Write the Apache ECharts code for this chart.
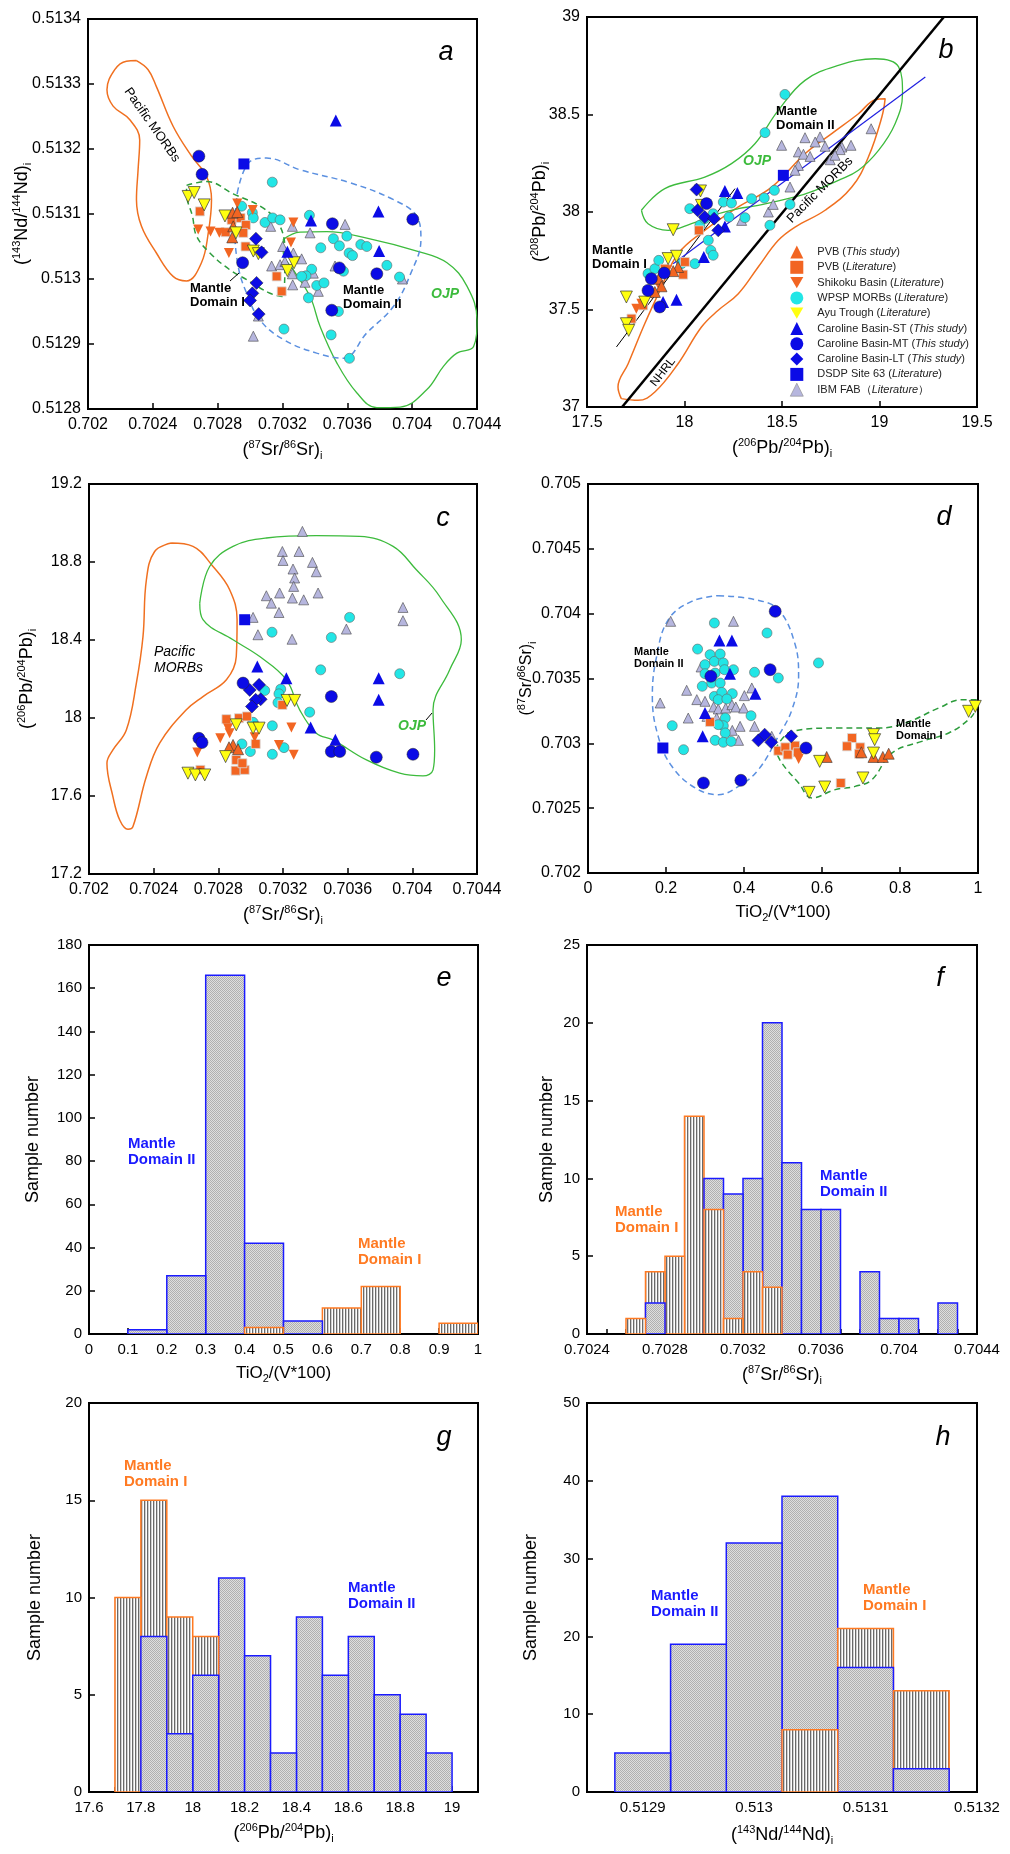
<!DOCTYPE html>
<html><head><meta charset="utf-8">
<script src="https://cdn.jsdelivr.net/npm/echarts/dist/echarts.min.js"></script>
<style>html,body{margin:0;padding:0;background:#fff}#c{width:1010px;height:1854px}</style>
</head><body><div id="c"></div>
<script>
// ---------------- DATA ----------------
// Panel a: (87Sr/86Sr)i vs (143Nd/144Nd)i
const a_pvbT = [[0.702892,0.513102],[0.702921,0.513103],[0.702896,0.513081],[0.70289,0.513064]];
const a_pvbL = [[0.70269,0.513104],[0.702886,0.513091],[0.702941,0.513094],[0.702974,0.513083],[0.702849,0.513072],[0.702958,0.513071],[0.702972,0.51305],[0.703164,0.513004],[0.703195,0.512981]];
const a_shik = [[0.70268,0.513076],[0.702756,0.513073],[0.70281,0.513071],[0.702869,0.51304],[0.702921,0.513116],[0.703267,0.513087],[0.703252,0.513056],[0.703016,0.513106]];
const a_wpsp = [[0.703137,0.513149],[0.702948,0.513112],[0.703014,0.513102],[0.70302,0.513094],[0.703092,0.513087],[0.703139,0.513094],[0.703185,0.513091],[0.703366,0.513098],[0.703514,0.513062],[0.703551,0.513051],[0.703597,0.513066],[0.703436,0.513048],[0.703611,0.51304],[0.703632,0.513036],[0.703683,0.513053],[0.70372,0.51305],[0.703844,0.513021],[0.703922,0.513003],[0.703576,0.513012],[0.70338,0.513015],[0.703345,0.513005],[0.703411,0.51299],[0.703456,0.512994],[0.70336,0.512971],[0.703209,0.512923],[0.7035,0.512914],[0.703545,0.51295],[0.703613,0.512878],[0.703318,0.513004]];
const a_ayu = [[0.702618,0.513127],[0.702655,0.513133],[0.702717,0.513114],[0.702845,0.513097],[0.702913,0.513071],[0.70302,0.513043],[0.703051,0.513039],[0.70323,0.513013],[0.703271,0.513025]];
const a_cbST = [[0.703529,0.513244],[0.703376,0.51309],[0.703792,0.513104],[0.703796,0.513043],[0.70323,0.513042]];
const a_cbMT = [[0.702684,0.513189],[0.702704,0.513161],[0.702954,0.513025],[0.703508,0.513085],[0.703551,0.513017],[0.703504,0.512952],[0.703782,0.513008],[0.704004,0.513092]];
const a_cbLT = [[0.703036,0.513062],[0.703071,0.513041],[0.70304,0.512994],[0.703014,0.512978],[0.703,0.512967],[0.703053,0.512946]];
const a_dsdp = [[0.702962,0.513177]];
const a_ibm = [[0.703127,0.513081],[0.703261,0.513081],[0.70337,0.513071],[0.703586,0.513084],[0.703201,0.51305],[0.703267,0.51304],[0.703318,0.513031],[0.703133,0.51302],[0.703185,0.513022],[0.703215,0.513027],[0.703261,0.513008],[0.703263,0.512991],[0.703339,0.512995],[0.70339,0.513009],[0.703421,0.512981],[0.70302,0.512912],[0.703051,0.512943],[0.703524,0.51302],[0.70394,0.513]];
const a_pacMORB = [[0.702299,0.513336],[0.702371,0.513322],[0.702422,0.513296],[0.702525,0.513235],[0.702639,0.513189],[0.702731,0.513158],[0.702762,0.513122],[0.702742,0.513071],[0.7027,0.513025],[0.702608,0.512997],[0.702525,0.513004],[0.702422,0.51304],[0.70233,0.513081],[0.702299,0.513122],[0.702309,0.513168],[0.702319,0.513214],[0.702258,0.513245],[0.702155,0.513266],[0.702117,0.513291],[0.702165,0.513322],[0.702237,0.513335]];
const a_ojp = [[0.703205,0.513061],[0.703308,0.513072],[0.703473,0.513073],[0.70372,0.513063],[0.704029,0.513043],[0.704215,0.513025],[0.704338,0.512989],[0.7044,0.512937],[0.704379,0.512896],[0.704276,0.512886],[0.704194,0.512866],[0.704091,0.51283],[0.703926,0.512803],[0.703782,0.512802],[0.703658,0.512825],[0.703535,0.512871],[0.703432,0.512927],[0.70337,0.512973],[0.703267,0.513014],[0.703205,0.51304]];
const a_dom1 = [[0.702608,0.513144],[0.702731,0.51315],[0.702896,0.513131],[0.703082,0.513109],[0.703185,0.513081],[0.703215,0.51304],[0.703201,0.512973],[0.703123,0.512978],[0.702979,0.512999],[0.702876,0.513014],[0.702752,0.51304],[0.70267,0.513066],[0.702645,0.513096],[0.702608,0.513132]];
const a_dom2 = [[0.702921,0.513132],[0.702989,0.513178],[0.703102,0.513186],[0.703308,0.513168],[0.703617,0.513148],[0.703885,0.513122],[0.704029,0.513096],[0.704054,0.513061],[0.703992,0.513009],[0.703885,0.512958],[0.70372,0.512917],[0.703576,0.512878],[0.703411,0.512886],[0.703205,0.512907],[0.703061,0.512937],[0.702979,0.512978],[0.702927,0.513019],[0.702906,0.513081]];

// Panel b: (206Pb/204Pb)i vs (208Pb/204Pb)i
const b_pvbT = [[17.868,37.658],[17.882,37.619],[17.848,37.59],[17.967,37.718],[17.942,37.697]];
const b_pvbL = [[17.728,37.453],[17.788,37.521],[17.899,37.709],[18.002,37.744],[17.993,37.679],[18.074,37.906]];
const b_shik = [[17.753,37.504],[17.779,37.53],[17.83,37.581],[17.868,37.624],[17.911,37.701]];
const b_wpsp = [[18.515,38.603],[18.413,38.407],[17.813,37.684],[17.848,37.709],[17.868,37.752],[18.027,38.017],[18.079,37.932],[18.122,37.855],[18.135,37.803],[18.147,37.778],[18.053,37.735],[17.985,37.735],[18.147,37.991],[18.199,38.051],[18.241,38.046],[18.228,37.974],[18.31,37.971],[18.344,38.068],[18.409,38.072],[18.461,38.111],[18.438,37.932],[18.541,38.039],[18.104,37.966]];
const b_ayu = [[17.702,37.564],[17.702,37.427],[17.714,37.393],[17.796,37.538],[17.916,37.761],[17.959,37.773],[18.082,38.108],[18.087,38.034],[17.942,37.909]];
const b_cbST = [[17.89,37.538],[17.959,37.55],[18.099,37.769],[18.207,38.108],[18.271,38.097],[18.207,37.926]];
const b_cbMT = [[17.873,37.513],[17.813,37.598],[17.83,37.658],[17.896,37.687],[18.113,38.043]];
const b_cbLT = [[18.062,38.115],[18.067,38.009],[18.104,37.974],[18.152,37.966],[18.173,37.906]];
const b_dsdp = [[18.507,38.188]];
const b_ibm = [[18.498,38.342],[18.618,38.381],[18.695,38.385],[18.67,38.359],[18.721,38.337],[18.584,38.308],[18.61,38.296],[18.644,38.285],[18.747,38.268],[18.807,38.333],[18.854,38.342],[18.798,38.32],[18.772,38.291],[18.957,38.427],[18.584,38.239],[18.567,38.214],[18.541,38.128],[18.43,38.0],[18.455,38.039],[18.293,37.957]];
const b_pacMORB = [[17.676,37.043],[17.762,37.034],[17.848,37.077],[17.967,37.222],[18.087,37.41],[18.173,37.496],[18.276,37.581],[18.378,37.718],[18.481,37.855],[18.567,37.923],[18.721,38.009],[18.858,38.128],[18.943,38.282],[19.012,38.487],[19.029,38.581],[18.978,38.576],[18.892,38.504],[18.755,38.402],[18.618,38.299],[18.447,38.128],[18.276,38.026],[18.104,37.906],[17.967,37.786],[17.882,37.615],[17.796,37.427],[17.711,37.222],[17.659,37.103]];
const b_ojp = [[17.779,38.009],[17.899,38.12],[18.104,38.179],[18.241,38.248],[18.361,38.35],[18.481,38.521],[18.618,38.675],[18.789,38.752],[18.978,38.786],[19.098,38.744],[19.118,38.607],[19.08,38.453],[18.995,38.316],[18.892,38.214],[18.789,38.162],[18.67,38.111],[18.567,38.077],[18.378,38.034],[18.276,38.017],[18.173,37.991],[18.036,37.94],[17.916,37.906],[17.813,37.94]];
const b_nhrl = [[17.68,37.0],[19.33,39.0]];
const b_trend1 = [[17.651,37.308],[18.259,38.12]];
const b_trend2 = [[17.942,37.735],[19.235,38.692]];

// Panel c: (87Sr/86Sr)i vs (206Pb/204Pb)i
const c_pvbT = [[0.702891,17.862],[0.702866,17.85],[0.702922,17.84]];
const c_pvbL = [[0.70285,17.994],[0.702928,17.999],[0.702977,18.008],[0.703031,17.867],[0.702911,17.785],[0.702907,17.73],[0.702963,17.734],[0.702949,17.768],[0.702689,17.734],[0.703196,18.067]];
const c_shik = [[0.702812,17.896],[0.70287,17.922],[0.70286,17.948],[0.70267,17.823],[0.703025,17.901],[0.703252,17.951],[0.703175,17.862],[0.703266,17.811]];
const c_wpsp = [[0.703132,18.44],[0.703499,18.413],[0.703612,18.516],[0.703433,18.247],[0.703922,18.227],[0.703365,18.03],[0.703087,18.141],[0.703186,18.148],[0.703175,18.124],[0.703169,18.079],[0.703015,17.978],[0.703134,17.96],[0.702946,17.867],[0.702998,17.828],[0.703134,17.814],[0.703206,17.848]];
const c_ayu = [[0.702612,17.717],[0.702658,17.708],[0.702716,17.708],[0.702845,17.802],[0.702911,17.965],[0.703015,17.948],[0.703052,17.948],[0.703225,18.09],[0.703272,18.09]];
const c_cbST = [[0.703041,18.264],[0.703221,18.204],[0.703371,17.951],[0.703524,17.888],[0.703792,18.204],[0.703792,18.093]];
const c_cbMT = [[0.70268,17.896],[0.702699,17.874],[0.702953,18.179],[0.703499,18.11],[0.703499,17.828],[0.703551,17.828],[0.703777,17.799],[0.704004,17.814]];
const c_cbLT = [[0.702994,18.144],[0.703052,18.17],[0.703062,18.096],[0.703031,18.093],[0.703008,18.059]];
const c_dsdp = [[0.702963,18.504]];
const c_ibm = [[0.70332,18.957],[0.703196,18.854],[0.7032,18.808],[0.703299,18.854],[0.703382,18.798],[0.703406,18.75],[0.703262,18.764],[0.703272,18.718],[0.703266,18.675],[0.703179,18.641],[0.703258,18.615],[0.703328,18.606],[0.703417,18.641],[0.703097,18.627],[0.703128,18.589],[0.703175,18.541],[0.703015,18.516],[0.703045,18.427],[0.703256,18.404],[0.703592,18.456],[0.703942,18.567],[0.703942,18.499]];
const c_pacMORB = [[0.702509,18.897],[0.702643,18.88],[0.702767,18.777],[0.70287,18.658],[0.702916,18.504],[0.702911,18.315],[0.70285,18.196],[0.702705,18.11],[0.702602,18.042],[0.702437,17.871],[0.702355,17.7],[0.702272,17.443],[0.702241,17.429],[0.70219,17.477],[0.702148,17.597],[0.702111,17.768],[0.702148,17.836],[0.702231,17.939],[0.702293,18.179],[0.702334,18.418],[0.702355,18.709],[0.702406,18.854]];
const c_ojp = [[0.702685,18.589],[0.702746,18.777],[0.702891,18.88],[0.703097,18.923],[0.703406,18.935],[0.703674,18.931],[0.703881,18.88],[0.704025,18.76],[0.704169,18.623],[0.704303,18.401],[0.704231,18.247],[0.704128,18.042],[0.704138,17.836],[0.704128,17.734],[0.704066,17.703],[0.703922,17.717],[0.703716,17.785],[0.703509,17.888],[0.703406,17.922],[0.703303,18.042],[0.703221,18.196],[0.703056,18.315],[0.702891,18.401],[0.702705,18.504]];

// Panel d: TiO2/(V*100) vs (87Sr/86Sr)i
const d_pvbT = [[0.612,0.702895],[0.701,0.702931],[0.732,0.702895],[0.756,0.702895],[0.771,0.70292]];
const d_pvbL = [[0.313,0.703165],[0.488,0.702943],[0.506,0.702969],[0.512,0.702913],[0.531,0.702982],[0.538,0.702931],[0.677,0.703041],[0.664,0.702977],[0.698,0.702969],[0.695,0.70292],[0.648,0.702694]];
const d_shik = [[0.54,0.702879]];
const d_wpsp = [[0.324,0.703928],[0.281,0.703727],[0.3,0.703607],[0.313,0.703684],[0.324,0.703632],[0.339,0.703689],[0.347,0.70362],[0.3,0.703537],[0.326,0.703542],[0.35,0.703568],[0.373,0.703568],[0.317,0.703465],[0.339,0.703465],[0.293,0.70344],[0.324,0.703362],[0.343,0.703393],[0.37,0.703383],[0.334,0.703337],[0.356,0.703342],[0.352,0.703195],[0.347,0.703136],[0.334,0.703144],[0.352,0.70308],[0.326,0.703023],[0.347,0.703008],[0.367,0.703015],[0.216,0.703136],[0.245,0.702951],[0.418,0.703213],[0.427,0.703548],[0.459,0.703851],[0.488,0.703504],[0.591,0.70362]];
const d_ayu = [[0.567,0.702622],[0.607,0.702663],[0.594,0.702861],[0.705,0.702733],[0.732,0.703067],[0.735,0.703028],[0.732,0.702925],[0.976,0.703247],[0.993,0.703285]];
const d_cbST = [[0.337,0.703794],[0.369,0.703794],[0.364,0.703537],[0.429,0.703383],[0.3,0.703234],[0.294,0.703054]];
const d_cbMT = [[0.48,0.704018],[0.467,0.703568],[0.315,0.703517],[0.559,0.702964],[0.296,0.702694],[0.392,0.702715]];
const d_cbLT = [[0.437,0.703023],[0.453,0.703067],[0.47,0.703008],[0.521,0.703054]];
const d_dsdp = [[0.192,0.702964]];
const d_ibm = [[0.212,0.703941],[0.373,0.703941],[0.29,0.703589],[0.253,0.703409],[0.185,0.703311],[0.279,0.703337],[0.3,0.703324],[0.322,0.70328],[0.334,0.703265],[0.353,0.703272],[0.369,0.703298],[0.379,0.70328],[0.399,0.703272],[0.401,0.703368],[0.42,0.703427],[0.427,0.703131],[0.39,0.703131],[0.37,0.7031],[0.386,0.703023],[0.257,0.703195],[0.305,0.703208],[0.33,0.703195],[0.471,0.703054]];
const d_dom1 = [[0.48,0.702951],[0.523,0.703093],[0.642,0.703118],[0.745,0.703118],[0.814,0.703157],[0.899,0.703272],[0.959,0.703337],[0.997,0.703337],[0.993,0.703254],[0.976,0.703183],[0.925,0.70308],[0.856,0.703015],[0.779,0.702925],[0.728,0.70272],[0.685,0.702668],[0.634,0.702643],[0.574,0.702578],[0.54,0.702694],[0.497,0.702848]];
const d_dom2 = [[0.334,0.704139],[0.429,0.704108],[0.488,0.704031],[0.53,0.703774],[0.54,0.703517],[0.523,0.70326],[0.488,0.703054],[0.437,0.702797],[0.386,0.702668],[0.334,0.702604],[0.275,0.702656],[0.215,0.702823],[0.18,0.703054],[0.165,0.703362],[0.176,0.703671],[0.206,0.703954],[0.266,0.704095]];

// Histograms: [binStart, binEnd, count]
const e_II = [[0.1,0.2,2],[0.2,0.3,27],[0.3,0.4,166],[0.4,0.5,42],[0.5,0.6,6]];
const e_I  = [[0.4,0.5,3],[0.6,0.7,12],[0.7,0.8,22],[0.9,1.0,5]];
const f_II = [[0.7027,0.7028,2],[0.703,0.7031,10],[0.7031,0.7032,9],[0.7032,0.7033,10],[0.7033,0.7034,20],[0.7034,0.7035,11],[0.7035,0.7036,8],[0.7036,0.7037,8],[0.7038,0.7039,4],[0.7039,0.704,1],[0.704,0.7041,1],[0.7042,0.7043,2]];
const f_I  = [[0.7026,0.7027,1],[0.7027,0.7028,4],[0.7028,0.7029,5],[0.7029,0.703,14],[0.703,0.7031,8],[0.7031,0.7032,1],[0.7032,0.7033,4],[0.7033,0.7034,3]];
const g_II = [[17.8,17.9,8],[17.9,18,3],[18,18.1,6],[18.1,18.2,11],[18.2,18.3,7],[18.3,18.4,2],[18.4,18.5,9],[18.5,18.6,6],[18.6,18.7,8],[18.7,18.8,5],[18.8,18.9,4],[18.9,19,2]];
const g_I  = [[17.7,17.8,10],[17.8,17.9,15],[17.9,18,9],[18,18.1,8]];
const h_II = [[0.512875,0.512925,5],[0.512925,0.512975,19],[0.512975,0.513025,32],[0.513025,0.513075,38],[0.513075,0.513125,16],[0.513125,0.513175,3]];
const h_I  = [[0.513025,0.513075,8],[0.513075,0.513125,21],[0.513125,0.513175,13]];

// Legend labels
const NAMES = {pvbT:'PVB (This study)', pvbL:'PVB (Literature)', shik:'Shikoku Basin (Literature)', wpsp:'WPSP MORBs (Literature)', ayu:'Ayu Trough (Literature)', cbST:'Caroline Basin-ST (This study)', cbMT:'Caroline Basin-MT (This study)', cbLT:'Caroline Basin-LT (This study)', dsdp:'DSDP Site 63 (Literature)', ibm:'IBM FAB\uff08Literature\uff09'};
const LEGEND_ORDER = ['pvbT','pvbL','shik','wpsp','ayu','cbST','cbMT','cbLT','dsdp','ibm'];

// ---------------- STYLE ----------------
const F = 'Liberation Sans, Arial, Helvetica, sans-serif';
const ORANGE='#f26522', BLUE='#0b0be6', CYAN='#22e6e6', YELLOW='#ffff10', LAV='#b6b6de', GREEN='#3dbb3d', DGREEN='#2c9c3c', LBLUE='#5b90e0';
const HBLUE='#1a1aff', HORANGE='#ff7a22';
const STYLE = {
  pvbT:{symbol:'triangle',rot:0,size:11,color:ORANGE,border:'#333',bw:0.6},
  pvbL:{symbol:'rect',rot:0,size:9,color:ORANGE,border:'#d8d8d8',bw:0.8},
  shik:{symbol:'triangle',rot:180,size:10,color:ORANGE,border:ORANGE,bw:0},
  wpsp:{symbol:'circle',rot:0,size:10,color:CYAN,border:'#666',bw:0.6},
  ayu:{symbol:'triangle',rot:180,size:12,color:YELLOW,border:'#333',bw:0.7},
  cbST:{symbol:'triangle',rot:0,size:12,color:BLUE,border:BLUE,bw:0},
  cbMT:{symbol:'circle',rot:0,size:12,color:BLUE,border:'#222',bw:0.5},
  cbLT:{symbol:'diamond',rot:0,size:13,color:BLUE,border:'#222',bw:0.5},
  dsdp:{symbol:'rect',rot:0,size:11,color:BLUE,border:BLUE,bw:0},
  ibm:{symbol:'triangle',rot:0,size:10,color:LAV,border:'#444',bw:0.6}
};
const DRAW_ORDER = ['ibm','wpsp','pvbL','shik','pvbT','ayu','dsdp','cbST','cbLT','cbMT'];
const INV_TRI = 'path://M0,0L20,0L10,17.3Z';

const GRIDS = [[88,19,389,390],[587,17,390,390],[89,484,388,390],[588,484,390,389],[89,945,389,389],[587,945,390,389],[89,1403,389,389],[587,1403,390,389]];

const RICH = {
  s:{fontSize:11, lineHeight:12, verticalAlign:'top', fontFamily:F, color:'#000'},
  b:{fontSize:11, lineHeight:12, verticalAlign:'bottom', fontFamily:F, color:'#000'}
};
const fmt = v => String(+v.toFixed(6));

function mkAxis(gi, isY, min, max, interval, name, gap, fs, nfs, extra) {
  const ax = {
    type:'value', gridIndex:gi, min, max, interval,
    name, nameLocation:'middle', nameGap:gap, nameRotate: isY?90:0, nameMoveOverlap:false,
    nameTextStyle:{fontFamily:F, fontSize:nfs, lineHeight:22, color:'#000', rich:RICH},
    axisLine:{show:true, onZero:false, lineStyle:{color:'#000', width:2}},
    axisTick:{show:true, inside:true, length:6, lineStyle:{color:'#000', width:1.5}},
    axisLabel:{fontFamily:F, fontSize:fs, color:'#000', margin:isY?7:8, formatter:fmt, showMinLabel:true, showMaxLabel:true, hideOverlap:false},
    splitLine:{show:false}
  };
  if (extra) {
    if (extra.formatter) ax.axisLabel.formatter = extra.formatter;
    if (extra.minor) ax.minorTick = {show:true, splitNumber:extra.minor, length:5, lineStyle:{color:'#000', width:1.5}};
  }
  return ax;
}

const SR = '({s|87}Sr/{s|86}Sr){b|i}';
const ND = '({s|143}Nd/{s|144}Nd){b|i}';
const PB6 = '({s|206}Pb/{s|204}Pb){b|i}';
const PB8 = '({s|208}Pb/{s|204}Pb){b|i}';
const TI = 'TiO{b|2}/(V*100)';
const SN = 'Sample number';

const xAxes = [
  mkAxis(0,false,0.702,0.7044,0.0004,SR,30,16,18),
  mkAxis(1,false,17.5,19.5,0.5,PB6,30,16,18),
  mkAxis(2,false,0.702,0.7044,0.0004,SR,30,16,18),
  mkAxis(3,false,0,1,0.2,TI,28,16,17),
  mkAxis(4,false,0,1,0.1,TI,28,15,17),
  mkAxis(5,false,0.7024,0.7044,0.0004,SR,30,15,18,{minor:4}),
  mkAxis(6,false,17.6,19.1,0.2,PB6,30,15,18,{minor:2, formatter:v=>Math.abs(v*5-Math.round(v*5))<1e-6?String(+v.toFixed(4)):''}),
  mkAxis(7,false,0.51285,0.5132,0.00005,ND,32,15,18,{formatter:v=>Math.abs(v*1e4-Math.round(v*1e4))<1e-3?String(+v.toFixed(4)):''})
];
const yAxes = [
  mkAxis(0,true,0.5128,0.5134,0.0001,ND,55,16,18),
  mkAxis(1,true,37,39,0.5,PB8,36,16,18),
  mkAxis(2,true,17.2,19.2,0.4,PB6,51,16,18),
  mkAxis(3,true,0.702,0.705,0.0005,SR,50,16,16),
  mkAxis(4,true,0,180,20,SN,45,15,18),
  mkAxis(5,true,0,25,5,SN,29,15,18),
  mkAxis(6,true,0,20,5,SN,43,15,18),
  mkAxis(7,true,0,50,10,SN,45,15,18)
];

// patterns
function pat(w,h,draw){const c=document.createElement('canvas');c.width=w;c.height=h;draw(c.getContext('2d'));return {image:c, repeat:'repeat'};}
const PAT_GRAY = pat(2,2,g=>{g.fillStyle='#dedede';g.fillRect(0,0,2,2);g.fillStyle='#b0b0b0';g.fillRect(0,0,1,1);g.fillRect(1,1,1,1);});
const PAT_STRIPE = pat(3,1,g=>{g.fillStyle='#ffffff';g.fillRect(0,0,3,1);g.fillStyle='#6a6a6a';g.fillRect(0,0,1,1);g.fillStyle='#cfcfcf';g.fillRect(1,0,1,1);});

const series = [];
function poly(gi, pts, color, width, dashed, closed, smooth) {
  series.push({type:'line', xAxisIndex:gi, yAxisIndex:gi, data: closed ? pts.concat([pts[0]]) : pts,
    smooth: smooth, showSymbol:false, symbol:'none', silent:true, clip:true, z:2,
    lineStyle:{color, width, type: dashed ? [6,4] : 'solid'}});
}
function scat(gi, set) {
  DRAW_ORDER.forEach(k => {
    if (!set[k] || !set[k].length) return;
    const s = STYLE[k];
    series.push({type:'scatter', name:NAMES[k], xAxisIndex:gi, yAxisIndex:gi, data:set[k],
      symbol:s.symbol, symbolRotate:s.rot, symbolSize:s.size, z:5,
      itemStyle:{color:s.color, borderColor:s.border, borderWidth:s.bw, opacity:1}});
  });
}
function hist(gi, II, I) {
  const items = II.map(b=>[b[0],b[1],b[2],2]).concat(I.map(b=>[b[0],b[1],b[2],1])).sort((p,q)=>q[2]-p[2]);
  series.push({type:'custom', xAxisIndex:gi, yAxisIndex:gi, data:items, clip:true, z:3, silent:true,
    encode:{x:[0,1], y:2},
    renderItem:(params, api) => {
      const p0 = api.coord([api.value(0), api.value(2)]);
      const p1 = api.coord([api.value(1), 0]);
      const dom = api.value(3);
      return {type:'rect', shape:{x:p0[0], y:p0[1], width:p1[0]-p0[0], height:p1[1]-p0[1]},
        style:{fill: dom===2 ? PAT_GRAY : PAT_STRIPE, stroke: dom===2 ? HBLUE : HORANGE, lineWidth:1.5}};
    }});
}

// panel a
poly(0, a_pacMORB, '#f07020', 1.5, false, true, 0.4);
poly(0, a_ojp, GREEN, 1.3, false, true, 0.4);
poly(0, a_dom1, DGREEN, 1.5, true, true, 0.4);
poly(0, a_dom2, LBLUE, 1.5, true, true, 0.4);
scat(0, {pvbT:a_pvbT,pvbL:a_pvbL,shik:a_shik,wpsp:a_wpsp,ayu:a_ayu,cbST:a_cbST,cbMT:a_cbMT,cbLT:a_cbLT,dsdp:a_dsdp,ibm:a_ibm});
// panel b
poly(1, b_pacMORB, '#f07020', 1.5, false, true, 0.4);
poly(1, b_ojp, GREEN, 1.3, false, true, 0.4);
poly(1, b_nhrl, '#000', 2.5, false, false, false);
poly(1, b_trend1, '#000', 1, false, false, false);
poly(1, b_trend2, '#2020e0', 1.2, false, false, false);
scat(1, {pvbT:b_pvbT,pvbL:b_pvbL,shik:b_shik,wpsp:b_wpsp,ayu:b_ayu,cbST:b_cbST,cbMT:b_cbMT,cbLT:b_cbLT,dsdp:b_dsdp,ibm:b_ibm});
// panel c
poly(2, c_pacMORB, '#f07020', 1.5, false, true, 0.4);
poly(2, c_ojp, GREEN, 1.3, false, true, 0.4);
scat(2, {pvbT:c_pvbT,pvbL:c_pvbL,shik:c_shik,wpsp:c_wpsp,ayu:c_ayu,cbST:c_cbST,cbMT:c_cbMT,cbLT:c_cbLT,dsdp:c_dsdp,ibm:c_ibm});
// panel d
poly(3, d_dom1, DGREEN, 1.5, true, true, 0.4);
poly(3, d_dom2, LBLUE, 1.5, true, true, 0.4);
scat(3, {pvbT:d_pvbT,pvbL:d_pvbL,shik:d_shik,wpsp:d_wpsp,ayu:d_ayu,cbST:d_cbST,cbMT:d_cbMT,cbLT:d_cbLT,dsdp:d_dsdp,ibm:d_ibm});
// histograms
hist(4, e_II, e_I);
hist(5, f_II, f_I);
hist(6, g_II, g_I);
hist(7, h_II, h_I);

// annotations
const G = [];
function txt(left, top, text, fs, opt) {
  opt = opt || {};
  G.push({type:'text', left, top, z:50, silent:true, style:{text, fontFamily:F, fontSize:fs, fontWeight:opt.w||'bold', fontStyle:opt.it?'italic':'normal', fill:opt.c||'#000', lineHeight:opt.lh||Math.round(fs*1.08)}});
}
function rtxt(x, y, deg, text, fs, opt) {
  opt = opt || {};
  G.push({type:'text', x, y, rotation:deg*Math.PI/180, z:50, silent:true, style:{text, fontFamily:F, fontSize:fs, fontWeight:opt.w||'normal', fontStyle:opt.it?'italic':'normal', fill:opt.c||'#000', align:'center', verticalAlign:'middle'}});
}
function ln(x1,y1,x2,y2){G.push({type:'line', z:50, silent:true, shape:{x1,y1,x2,y2}, style:{stroke:'#000', lineWidth:1}});}
// panel letters
[['a',446,52],['b',946,50],['c',443,518],['d',944,517],['e',444,978],['f',940,978],['g',444,1437],['h',943,1437]].forEach(l=>rtxt(l[1],l[2],0,l[0],27,{it:true}));
// a
rtxt(152,125,-55,'Pacific MORBs',13);
txt(190,281,'Mantle\nDomain I',13,{lh:14});
ln(230,281,239,273);
txt(343,283,'Mantle\nDomain II',13,{lh:14});
txt(431,287,'OJP',14,{it:true,c:GREEN});
// b
txt(776,104,'Mantle\nDomain II',13,{lh:14});
txt(592,243,'Mantle\nDomain I',13,{lh:14});
txt(743,154,'OJP',14,{it:true,c:GREEN});
rtxt(820,190,45,'Pacific MORBs',13);
rtxt(663,372,52,'NHRL',12);
// c
txt(154,644,'Pacific\nMORBs',14,{w:'normal',it:true,lh:16});
txt(398,719,'OJP',14,{it:true,c:GREEN});
ln(426,720,432,713);
// d
txt(634,646,'Mantle\nDomain II',11,{lh:12});
txt(896,718,'Mantle\nDomain I',11,{lh:12});
// histograms
txt(128,1136,'Mantle\nDomain II',15,{c:HBLUE,lh:16});
txt(358,1236,'Mantle\nDomain I',15,{c:HORANGE,lh:16});
txt(820,1168,'Mantle\nDomain II',15,{c:HBLUE,lh:16});
txt(615,1204,'Mantle\nDomain I',15,{c:HORANGE,lh:16});
txt(124,1458,'Mantle\nDomain I',15,{c:HORANGE,lh:16});
txt(348,1580,'Mantle\nDomain II',15,{c:HBLUE,lh:16});
txt(651,1588,'Mantle\nDomain II',15,{c:HBLUE,lh:16});
txt(863,1582,'Mantle\nDomain I',15,{c:HORANGE,lh:16});

const legendData = LEGEND_ORDER.map(k => {
  const it = {name:NAMES[k], itemStyle:{borderWidth:k==='ibm'?0.6:0, borderColor:'#888'}};
  if (STYLE[k].rot === 180) it.icon = INV_TRI;
  return it;
});

const option = {
  animation:false,
  backgroundColor:'#fff',
  grid: GRIDS.map(g=>({left:g[0], top:g[1], width:g[2], height:g[3], show:true, borderColor:'#000', borderWidth:2, backgroundColor:'transparent', containLabel:false, outerBoundsMode:'none'})),
  xAxis: xAxes, yAxis: yAxes,
  legend: {
    data: legendData, orient:'vertical', left:785, top:240,
    itemWidth:13, itemHeight:13, itemGap:1.3, selectedMode:false,
    textStyle:{fontFamily:F, fontSize:11, color:'#222', lineHeight:14, rich:{
      it:{fontStyle:'italic', fontFamily:F, fontSize:11, lineHeight:14, color:'#222'},
      sp:{width:9, fontSize:11, lineHeight:14}}},
    formatter: n => { const m = n.match(/^(.*?)([(\uff08])(.*)([)\uff09])$/); return '{sp| }' + (m ? m[1] + m[2] + '{it|' + m[3] + '}' + m[4] : n); }
  },
  graphic: G,
  series
};
const chart = echarts.init(document.getElementById('c'), null, {renderer:'canvas'});
chart.setOption(option);
</script></body></html>
